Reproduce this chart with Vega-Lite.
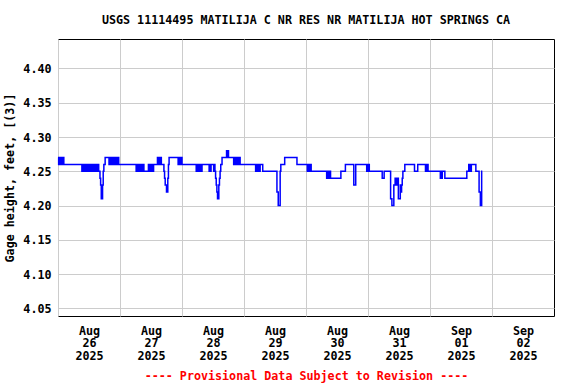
{
 "$schema": "https://vega.github.io/schema/vega-lite/v6.json",
 "width": 496,
 "height": 277,
 "autosize": {"type": "none"},
 "padding": {"left": 58, "top": 39, "right": 22, "bottom": 68},
 "background": "white",
 "title": {"text": "USGS 11114495 MATILIJA C NR RES NR MATILIJA HOT SPRINGS CA", "font": "DejaVu Sans Mono", "fontSize": 11.7, "fontWeight": "bold", "color": "black", "anchor": "middle", "frame": "group", "offset": 12},
 "config": {"view": {"stroke": "black", "strokeWidth": 1}},
 "data": {"values": [
  {"t":"2025-08-26T00:00","v":4.27},{"t":"2025-08-26T00:15","v":4.26},{"t":"2025-08-26T00:30","v":4.27},{"t":"2025-08-26T00:45","v":4.26},{"t":"2025-08-26T01:00","v":4.27},{"t":"2025-08-26T01:15","v":4.26},{"t":"2025-08-26T01:30","v":4.27},{"t":"2025-08-26T01:45","v":4.26},{"t":"2025-08-26T02:00","v":4.27},{"t":"2025-08-26T02:15","v":4.26},
  {"t":"2025-08-26T09:15","v":4.25},{"t":"2025-08-26T09:30","v":4.26},{"t":"2025-08-26T09:45","v":4.25},{"t":"2025-08-26T10:00","v":4.26},{"t":"2025-08-26T10:15","v":4.25},{"t":"2025-08-26T10:30","v":4.26},{"t":"2025-08-26T10:45","v":4.25},{"t":"2025-08-26T11:00","v":4.26},
  {"t":"2025-08-26T11:30","v":4.25},{"t":"2025-08-26T11:45","v":4.26},{"t":"2025-08-26T12:00","v":4.25},{"t":"2025-08-26T12:15","v":4.26},{"t":"2025-08-26T12:30","v":4.25},{"t":"2025-08-26T12:45","v":4.26},{"t":"2025-08-26T13:00","v":4.25},{"t":"2025-08-26T13:15","v":4.26},
  {"t":"2025-08-26T13:30","v":4.25},{"t":"2025-08-26T13:45","v":4.26},{"t":"2025-08-26T14:00","v":4.25},{"t":"2025-08-26T14:15","v":4.26},{"t":"2025-08-26T14:30","v":4.25},{"t":"2025-08-26T14:45","v":4.26},{"t":"2025-08-26T15:00","v":4.25},{"t":"2025-08-26T15:15","v":4.26},
  {"t":"2025-08-26T15:45","v":4.25},{"t":"2025-08-26T16:15","v":4.24},{"t":"2025-08-26T16:30","v":4.23},{"t":"2025-08-26T16:45","v":4.21},{"t":"2025-08-26T17:15","v":4.23},{"t":"2025-08-26T17:30","v":4.25},{"t":"2025-08-26T17:45","v":4.26},{"t":"2025-08-26T18:15","v":4.27},
  {"t":"2025-08-26T19:45","v":4.26},{"t":"2025-08-26T20:00","v":4.27},{"t":"2025-08-26T20:15","v":4.26},{"t":"2025-08-26T20:30","v":4.27},{"t":"2025-08-26T20:45","v":4.26},{"t":"2025-08-26T21:00","v":4.27},
  {"t":"2025-08-26T21:30","v":4.26},{"t":"2025-08-26T21:45","v":4.27},{"t":"2025-08-26T22:00","v":4.26},{"t":"2025-08-26T22:15","v":4.27},{"t":"2025-08-26T22:30","v":4.26},{"t":"2025-08-26T22:45","v":4.27},{"t":"2025-08-26T23:00","v":4.26},{"t":"2025-08-26T23:15","v":4.27},{"t":"2025-08-26T23:30","v":4.26},
  {"t":"2025-08-27T06:15","v":4.25},{"t":"2025-08-27T06:30","v":4.26},{"t":"2025-08-27T06:45","v":4.25},{"t":"2025-08-27T07:00","v":4.26},{"t":"2025-08-27T07:15","v":4.25},{"t":"2025-08-27T07:30","v":4.26},{"t":"2025-08-27T07:45","v":4.25},{"t":"2025-08-27T08:00","v":4.26},
  {"t":"2025-08-27T08:15","v":4.25},{"t":"2025-08-27T08:30","v":4.26},{"t":"2025-08-27T08:45","v":4.25},{"t":"2025-08-27T09:00","v":4.26},{"t":"2025-08-27T09:15","v":4.25},
  {"t":"2025-08-27T11:00","v":4.26},{"t":"2025-08-27T11:15","v":4.25},{"t":"2025-08-27T11:30","v":4.26},{"t":"2025-08-27T11:45","v":4.25},{"t":"2025-08-27T12:00","v":4.26},{"t":"2025-08-27T12:15","v":4.25},{"t":"2025-08-27T12:30","v":4.26},{"t":"2025-08-27T12:45","v":4.25},{"t":"2025-08-27T13:00","v":4.26},
  {"t":"2025-08-27T14:30","v":4.27},{"t":"2025-08-27T14:45","v":4.26},{"t":"2025-08-27T15:00","v":4.27},{"t":"2025-08-27T15:15","v":4.26},{"t":"2025-08-27T15:30","v":4.27},{"t":"2025-08-27T16:00","v":4.26},
  {"t":"2025-08-27T17:00","v":4.25},{"t":"2025-08-27T17:15","v":4.24},{"t":"2025-08-27T17:30","v":4.23},{"t":"2025-08-27T18:00","v":4.22},{"t":"2025-08-27T18:30","v":4.24},{"t":"2025-08-27T18:45","v":4.26},{"t":"2025-08-27T19:00","v":4.27},
  {"t":"2025-08-27T22:30","v":4.26},{"t":"2025-08-27T22:45","v":4.27},{"t":"2025-08-27T23:00","v":4.26},{"t":"2025-08-27T23:15","v":4.27},{"t":"2025-08-27T23:30","v":4.26},{"t":"2025-08-27T23:45","v":4.27},{"t":"2025-08-28T00:00","v":4.26},
  {"t":"2025-08-28T05:30","v":4.25},{"t":"2025-08-28T05:45","v":4.26},{"t":"2025-08-28T06:00","v":4.25},{"t":"2025-08-28T06:15","v":4.26},{"t":"2025-08-28T06:30","v":4.25},{"t":"2025-08-28T06:45","v":4.26},{"t":"2025-08-28T07:00","v":4.25},{"t":"2025-08-28T07:15","v":4.26},{"t":"2025-08-28T07:30","v":4.25},{"t":"2025-08-28T07:45","v":4.26},
  {"t":"2025-08-28T10:30","v":4.25},{"t":"2025-08-28T10:45","v":4.26},{"t":"2025-08-28T11:00","v":4.25},{"t":"2025-08-28T11:15","v":4.26},
  {"t":"2025-08-28T12:15","v":4.25},{"t":"2025-08-28T12:30","v":4.26},{"t":"2025-08-28T12:45","v":4.25},{"t":"2025-08-28T13:00","v":4.24},{"t":"2025-08-28T13:15","v":4.23},{"t":"2025-08-28T13:30","v":4.22},{"t":"2025-08-28T13:45","v":4.21},{"t":"2025-08-28T14:15","v":4.23},{"t":"2025-08-28T14:30","v":4.24},{"t":"2025-08-28T14:45","v":4.25},{"t":"2025-08-28T15:00","v":4.26},{"t":"2025-08-28T15:30","v":4.27},
  {"t":"2025-08-28T17:15","v":4.28},{"t":"2025-08-28T17:30","v":4.27},{"t":"2025-08-28T17:45","v":4.28},{"t":"2025-08-28T18:00","v":4.27},
  {"t":"2025-08-28T20:00","v":4.26},{"t":"2025-08-28T20:15","v":4.27},{"t":"2025-08-28T20:30","v":4.26},{"t":"2025-08-28T20:45","v":4.27},{"t":"2025-08-28T21:00","v":4.26},{"t":"2025-08-28T21:15","v":4.27},{"t":"2025-08-28T21:30","v":4.26},{"t":"2025-08-28T21:45","v":4.27},{"t":"2025-08-28T22:00","v":4.26},{"t":"2025-08-28T22:15","v":4.27},{"t":"2025-08-28T22:30","v":4.26},
  {"t":"2025-08-29T04:30","v":4.25},{"t":"2025-08-29T04:45","v":4.26},{"t":"2025-08-29T05:00","v":4.25},{"t":"2025-08-29T05:15","v":4.26},{"t":"2025-08-29T05:30","v":4.25},{"t":"2025-08-29T05:45","v":4.26},{"t":"2025-08-29T06:00","v":4.25},{"t":"2025-08-29T06:15","v":4.26},
  {"t":"2025-08-29T07:15","v":4.25},{"t":"2025-08-29T12:45","v":4.22},{"t":"2025-08-29T13:15","v":4.20},{"t":"2025-08-29T14:00","v":4.25},{"t":"2025-08-29T14:15","v":4.26},{"t":"2025-08-29T15:45","v":4.27},{"t":"2025-08-29T20:30","v":4.26},
  {"t":"2025-08-30T00:30","v":4.25},{"t":"2025-08-30T00:45","v":4.26},{"t":"2025-08-30T01:00","v":4.25},{"t":"2025-08-30T01:15","v":4.26},{"t":"2025-08-30T01:30","v":4.25},{"t":"2025-08-30T01:45","v":4.26},{"t":"2025-08-30T02:00","v":4.25},
  {"t":"2025-08-30T08:00","v":4.24},{"t":"2025-08-30T08:15","v":4.25},{"t":"2025-08-30T08:30","v":4.24},{"t":"2025-08-30T08:45","v":4.25},{"t":"2025-08-30T09:00","v":4.24},{"t":"2025-08-30T09:15","v":4.25},{"t":"2025-08-30T09:30","v":4.24},
  {"t":"2025-08-30T13:30","v":4.25},{"t":"2025-08-30T15:15","v":4.26},{"t":"2025-08-30T18:30","v":4.23},{"t":"2025-08-30T19:15","v":4.26},
  {"t":"2025-08-30T23:30","v":4.25},{"t":"2025-08-30T23:45","v":4.26},{"t":"2025-08-31T00:00","v":4.25},{"t":"2025-08-31T00:15","v":4.26},{"t":"2025-08-31T00:30","v":4.25},
  {"t":"2025-08-31T05:30","v":4.24},{"t":"2025-08-31T06:15","v":4.25},{"t":"2025-08-31T08:45","v":4.21},{"t":"2025-08-31T09:15","v":4.20},{"t":"2025-08-31T10:00","v":4.23},{"t":"2025-08-31T10:30","v":4.24},{"t":"2025-08-31T10:45","v":4.23},{"t":"2025-08-31T11:00","v":4.24},{"t":"2025-08-31T11:15","v":4.23},{"t":"2025-08-31T11:30","v":4.24},
  {"t":"2025-08-31T11:45","v":4.21},{"t":"2025-08-31T12:30","v":4.23},{"t":"2025-08-31T12:45","v":4.22},{"t":"2025-08-31T13:00","v":4.23},{"t":"2025-08-31T13:15","v":4.24},{"t":"2025-08-31T13:30","v":4.25},{"t":"2025-08-31T14:15","v":4.26},
  {"t":"2025-08-31T18:00","v":4.25},{"t":"2025-08-31T19:15","v":4.26},{"t":"2025-08-31T22:15","v":4.25},{"t":"2025-08-31T22:30","v":4.26},{"t":"2025-08-31T22:45","v":4.25},{"t":"2025-08-31T23:00","v":4.26},{"t":"2025-08-31T23:15","v":4.25},
  {"t":"2025-09-01T04:00","v":4.24},{"t":"2025-09-01T04:15","v":4.25},{"t":"2025-09-01T04:30","v":4.24},{"t":"2025-09-01T04:45","v":4.25},{"t":"2025-09-01T05:45","v":4.24},
  {"t":"2025-09-01T14:15","v":4.25},{"t":"2025-09-01T15:00","v":4.26},{"t":"2025-09-01T15:15","v":4.25},{"t":"2025-09-01T15:30","v":4.26},{"t":"2025-09-01T15:45","v":4.25},{"t":"2025-09-01T16:00","v":4.26},
  {"t":"2025-09-01T17:45","v":4.25},{"t":"2025-09-01T19:00","v":4.22},{"t":"2025-09-01T19:30","v":4.20},{"t":"2025-09-01T20:00","v":4.25},{"t":"2025-09-01T20:15","v":4.25}
 ]},
 "mark": {"type": "line", "interpolate": "step-after", "color": "#0000ff", "strokeWidth": 1.5},
 "encoding": {
  "x": {
   "field": "t", "type": "temporal",
   "scale": {"domain": [{"year": 2025, "month": 8, "date": 26}, {"year": 2025, "month": 9, "date": 3}]},
   "axis": {
    "values": [{"year": 2025, "month": 8, "date": 26}, {"year": 2025, "month": 8, "date": 27}, {"year": 2025, "month": 8, "date": 28}, {"year": 2025, "month": 8, "date": 29}, {"year": 2025, "month": 8, "date": 30}, {"year": 2025, "month": 8, "date": 31}, {"year": 2025, "month": 9, "date": 1}, {"year": 2025, "month": 9, "date": 2}],
    "labelExpr": "[timeFormat(datum.value, '%b'), timeFormat(datum.value, '%d'), timeFormat(datum.value, '%Y')]",
    "grid": true, "gridColor": "#cccccc", "gridWidth": 1,
    "ticks": false, "tickSize": 0, "domain": false,
    "labelOffset": 31, "labelPadding": 9, "labelFlush": false, "labelOverlap": false,
    "labelFont": "DejaVu Sans Mono", "labelFontSize": 11.7, "labelFontWeight": "bold", "labelColor": "black", "labelLineHeight": 12.7,
    "title": "---- Provisional Data Subject to Revision ----",
    "titleFont": "DejaVu Sans Mono", "titleFontSize": 11.7, "titleFontWeight": "bold", "titleColor": "#ff0000", "titlePadding": 8
   }
  },
  "y": {
   "field": "v", "type": "quantitative",
   "scale": {"domain": [4.039, 4.443], "nice": false, "zero": false},
   "axis": {
    "values": [4.05, 4.1, 4.15, 4.2, 4.25, 4.3, 4.35, 4.4],
    "format": ".2f",
    "grid": true, "gridColor": "#cccccc", "gridWidth": 1,
    "ticks": false, "tickSize": 0, "domain": false,
    "labelPadding": 7,
    "labelFont": "DejaVu Sans Mono", "labelFontSize": 11.7, "labelFontWeight": "bold", "labelColor": "black",
    "title": "Gage height, feet, [(3)]",
    "titleFont": "DejaVu Sans Mono", "titleFontSize": 11.7, "titleFontWeight": "bold", "titleColor": "black", "titlePadding": 7
   }
  }
 }
}
